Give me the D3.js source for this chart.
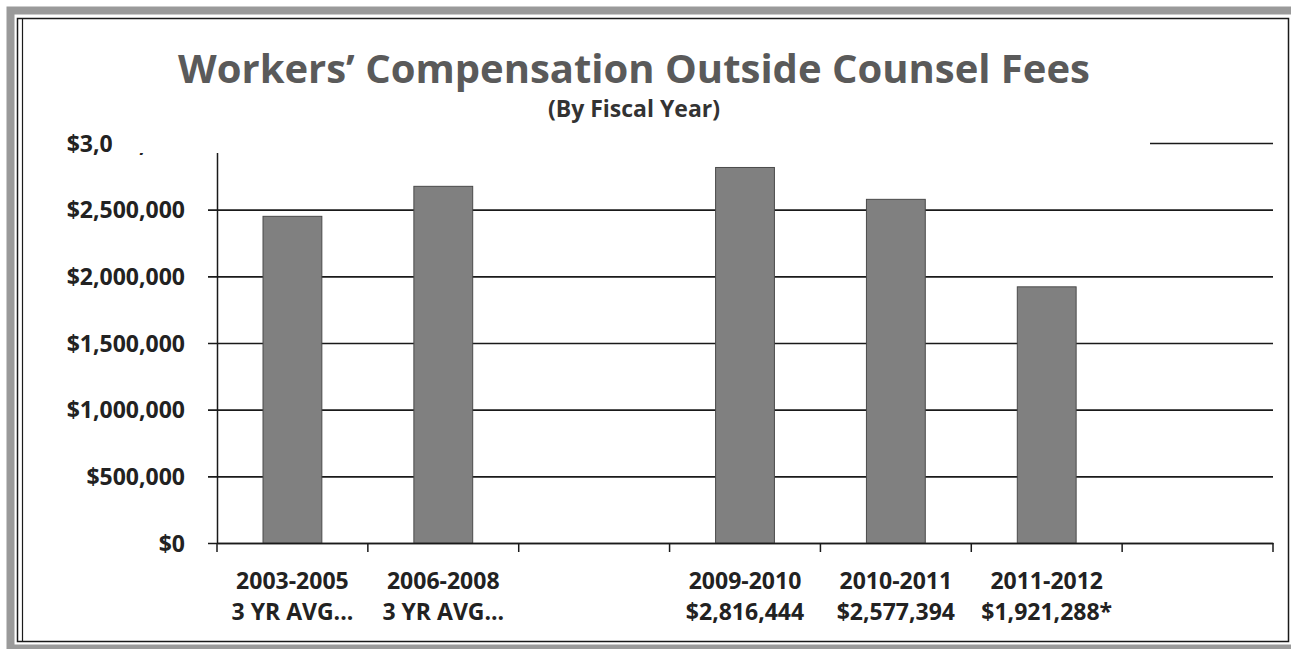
<!DOCTYPE html>
<html>
<head>
<meta charset="utf-8">
<script src="https://cdn.jsdelivr.net/npm/d3@7"></script>
<style>
  body { margin: 0; background: #fff; }
  svg { display: block; }
  .tick text { font-family: "Open Sans", sans-serif; font-weight: 700; fill: #222; }
</style>
</head>
<body>
<svg id="chart" width="1291" height="649"></svg>
<script>
// data
let periods = ["2003-2005", "2006-2008", "", "2009-2010", "2010-2011", "2011-2012", ""];
let subLabels = ["3 YR AVG...", "3 YR AVG...", "", "$2,816,444", "$2,577,394", "$1,921,288*", ""];
let fees = [2450000, 2675000, null, 2816444, 2577394, 1921288, null];
let yTicks = [0, 500000, 1000000, 1500000, 2000000, 2500000, 3000000];

let W = 1291, H = 649;
let plot = {left: 217, right: 1273, top: 143, bottom: 543};

let svg = d3.select('svg#chart');

// outer frame of the scanned page
svg.append('rect')
  .attr('x', 10.5).attr('y', 10.5)
  .attr('width', W).attr('height', 638)
  .attr('fill', 'none')
  .attr('stroke', '#9a9a9a')
  .attr('stroke-width', 8);

svg.append('rect')
  .attr('x', 17.5).attr('y', 18.5)
  .attr('width', 1271).attr('height', 623)
  .attr('fill', '#fff')
  .attr('stroke', '#1a1a1a')
  .attr('stroke-width', 1.5);

svg.append('line')
  .attr('x1', 22.5).attr('x2', 22.5)
  .attr('y1', 18.5).attr('y2', 641.5)
  .attr('stroke', '#1a1a1a')
  .attr('stroke-width', 1.2);

// scales
let xScale = d3.scaleBand()
  .domain(d3.range(periods.length))
  .range([plot.left, plot.right])
  .padding(0);

let yScale = d3.scaleLinear()
  .domain([0, 3000000])
  .range([plot.bottom, plot.top]);

let g = svg.append('g');

// y axis with gridlines
let yAxis = g.append('g')
  .attr('transform', `translate(${plot.left}, 0)`)
  .call(d3.axisLeft(yScale)
    .tickValues(yTicks)
    .tickSizeInner(-(plot.right - plot.left))
    .tickSizeOuter(0)
    .tickPadding(32)
    .tickFormat(d => '$' + d3.format(',')(d)));

yAxis.select('.domain').attr('stroke', '#1a1a1a').attr('stroke-width', 1.5);
yAxis.selectAll('.tick line')
  .attr('x1', -9)
  .attr('stroke', '#1a1a1a')
  .attr('stroke-width', 1.6);
yAxis.selectAll('.tick text').attr('font-size', 23).attr('dy', '0.36em');

// bars
let barW = xScale.bandwidth() * 0.39;
g.selectAll('rect.bar')
  .data(fees.map((v, i) => ({i: i, v: v})).filter(d => d.v !== null))
  .enter()
  .append('rect')
  .attr('class', 'bar')
  .attr('x', d => xScale(d.i) + (xScale.bandwidth() - barW) / 2)
  .attr('y', d => yScale(d.v))
  .attr('width', barW)
  .attr('height', d => yScale(0) - yScale(d.v))
  .attr('fill', '#808080')
  .attr('stroke', '#4a4a4a')
  .attr('stroke-width', 1);

// x axis
let xAxis = g.append('g')
  .attr('transform', `translate(0, ${plot.bottom})`)
  .call(d3.axisBottom(xScale).tickSize(0).tickFormat(''));
xAxis.select('.domain').attr('stroke', '#1a1a1a').attr('stroke-width', 1.5);

// tick marks on the band edges
let edges = d3.range(periods.length + 1).map(i => i < periods.length ? xScale(i) : plot.right);
g.selectAll('line.xtick')
  .data(edges)
  .enter()
  .append('line')
  .attr('class', 'xtick')
  .attr('x1', d => d).attr('x2', d => d)
  .attr('y1', plot.bottom).attr('y2', plot.bottom + 9)
  .attr('stroke', '#1a1a1a')
  .attr('stroke-width', 1.5);

// two line category labels
let labels = g.selectAll('text.xlab')
  .data(periods.map((p, i) => ({i: i, p: p, s: subLabels[i]})))
  .enter()
  .append('text')
  .attr('class', 'xlab')
  .attr('text-anchor', 'middle')
  .attr('font-family', '"Open Sans", sans-serif')
  .attr('font-weight', 700)
  .attr('font-size', 23)
  .attr('fill', '#222');
labels.append('tspan').attr('y', 589).attr('x', d => xScale(d.i) + xScale.bandwidth() / 2).text(d => d.p);
labels.append('tspan').attr('y', 620).attr('x', d => xScale(d.i) + xScale.bandwidth() / 2).text(d => d.s);

// the title box in the scan sits over the top of the plot and cuts the $3,000,000 label
let topLabel = yAxis.selectAll('.tick text').filter(d => d === 3000000).node();
let box = topLabel.getBBox();
let cutX = plot.left + box.x + topLabel.getSubStringLength(0, 4);
svg.append('rect')
  .attr('x', cutX)
  .attr('y', 24)
  .attr('width', 1150 - cutX)
  .attr('height', 153 - 24)
  .attr('fill', '#fff');

// title
svg.append('text')
  .attr('x', 634)
  .attr('y', 83)
  .attr('text-anchor', 'middle')
  .attr('font-family', '"Open Sans", sans-serif')
  .attr('font-weight', 700)
  .attr('font-size', 40)
  .attr('fill', '#5a5a5a')
  .text('Workers\u2019 Compensation Outside Counsel Fees');

svg.append('text')
  .attr('x', 634)
  .attr('y', 117)
  .attr('text-anchor', 'middle')
  .attr('font-family', '"Open Sans", sans-serif')
  .attr('font-weight', 700)
  .attr('font-size', 23)
  .attr('fill', '#333')
  .text('(By Fiscal Year)');
</script>
</body>
</html>
